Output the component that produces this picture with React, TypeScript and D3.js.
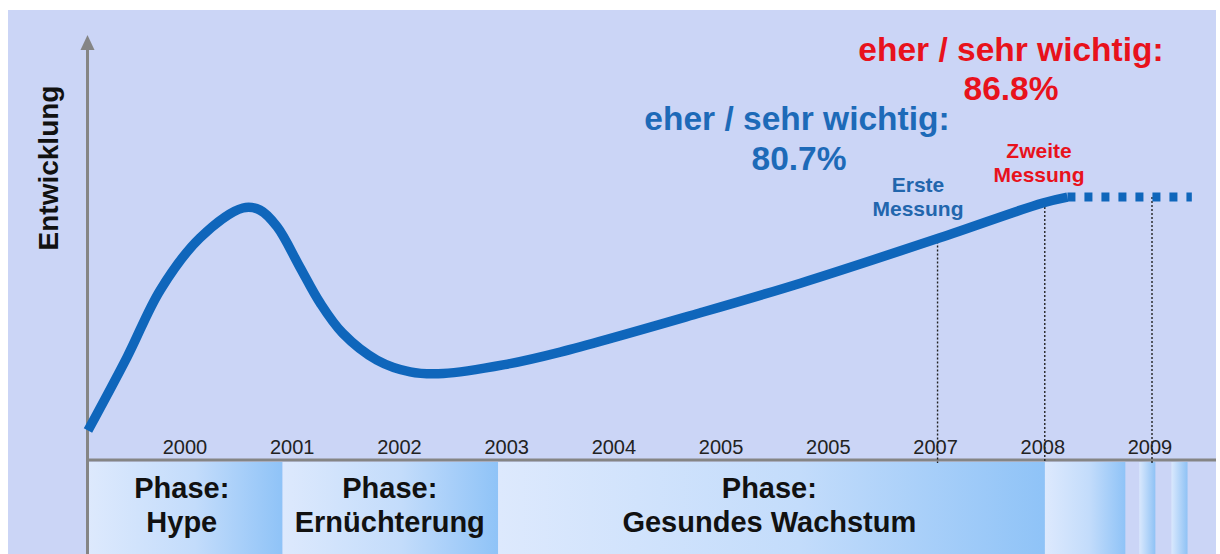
import React from "react";
import * as d3 from "d3";

// year labels along the time axis (the source repeats 2005)
const yearLabels = ["2000", "2001", "2002", "2003", "2004", "2005", "2005", "2007", "2008", "2009"];

// development curve, x in year-slot units, y in arbitrary "Entwicklung" units
const curveX = [-0.905, -0.54, -0.23, 0.14, 0.54, 0.7, 0.86, 1.07, 1.26, 1.47, 1.79, 2.1, 2.41, 2.98, 3.5, 4.8, 5.74, 7.04, 8.0, 8.23];
const curveY = [7, 24.5, 40.5, 52.9, 60, 59.5, 55.5, 46, 37.4, 30.2, 23.8, 21, 20.6, 22.7, 25.7, 35, 42.1, 52.9, 61.2, 62.6];

// forecast (dotted) continuation
const forecastX = [8.23, 9.39];
const forecastY = [62.6, 62.6];

// measurement drop lines
const markerX = [7, 8, 9];
const markerY = [53, 61.2, 62.6];

// phase bands below the axis
const phaseStart = [-0.9, 0.91, 2.92, 8.02];
const phaseEnd = [0.91, 2.92, 8.02, 8.77];
const phaseTitle = ["Phase:", "Phase:", "Phase:", ""];
const phaseName = ["Hype", "Ernüchterung", "Gesundes Wachstum", ""];
const phaseLabelX = [-0.03, 1.91, 5.45, 0];

// small stripes after the last band
const stripStart = [8.9, 9.2];
const stripEnd = [9.05, 9.35];

const W = 1220;
const H = 554;
const FONT = "'Liberation Sans', Arial, sans-serif";

export default function App() {
  const x = d3.scaleLinear().domain([0, 9]).range([185, 1150]);
  const y = d3.scaleLinear().domain([0, 100]).range([460, 40]);

  const line = d3
    .line<[number, number]>()
    .x((d) => x(d[0]))
    .y((d) => y(d[1]))
    .curve(d3.curveCatmullRom.alpha(0.5));

  const curvePts = curveX.map((v, i) => [v, curveY[i]] as [number, number]);
  const forecastPts = forecastX.map((v, i) => [v, forecastY[i]] as [number, number]);

  const axisY = y(0);
  const axisX = x(-0.9) - 1;
  const blue = "#0f66bb";
  const red = "#e8121c";

  return (
    <svg
      width={W}
      height={H}
      style={{ position: "absolute", left: 0, top: 0, fontFamily: FONT }}
    >
      <defs>
        <linearGradient id="band" x1="0" x2="1" y1="0" y2="0">
          <stop offset="0%" stopColor="#dde9fd" />
          <stop offset="55%" stopColor="#c3dcfb" />
          <stop offset="100%" stopColor="#8fc3f7" />
        </linearGradient>
        <linearGradient id="strip" x1="0" x2="1" y1="0" y2="0">
          <stop offset="0%" stopColor="#d9e8fd" />
          <stop offset="100%" stopColor="#8fc2f5" />
        </linearGradient>
      </defs>
      <rect x={0} y={0} width={W} height={H} fill="#fff" />
      <rect x={8} y={10} width={1208} height={H - 10} fill="#cbd5f6" />

      {/* phase bands */}
      {phaseStart.map((s, i) => (
        <rect
          key={"b" + i}
          x={x(s)}
          y={axisY + 2}
          width={x(phaseEnd[i]) - x(s)}
          height={H - axisY - 2}
          fill="url(#band)"
        />
      ))}
      {stripStart.map((s, i) => (
        <rect
          key={"s" + i}
          x={x(s)}
          y={axisY + 2}
          width={x(stripEnd[i]) - x(s)}
          height={H - axisY - 2}
          fill="url(#strip)"
        />
      ))}
      {phaseStart.map((s, i) =>
        phaseName[i] ? (
          <g key={"pl" + i} fontWeight="bold" fontSize={29} textAnchor="middle" fill="#111">
            <text x={x(phaseLabelX[i])} y={498}>{phaseTitle[i]}</text>
            <text x={x(phaseLabelX[i])} y={532}>{phaseName[i]}</text>
          </g>
        ) : null
      )}

      {/* axes */}
      <line x1={axisX} x2={W - 4} y1={axisY} y2={axisY} stroke="#858585" strokeWidth={3} />
      <line x1={axisX} x2={axisX} y1={H} y2={46} stroke="#858585" strokeWidth={3} />
      <path d={`M${axisX - 7},${50} L${axisX},${35} L${axisX + 7},${50} Z`} fill="#858585" />

      {/* year labels */}
      {yearLabels.map((t, i) => (
        <text key={"y" + i} x={x(i)} y={454} fontSize={20} textAnchor="middle" fill="#222">
          {t}
        </text>
      ))}

      {/* measurement drop lines */}
      {markerX.map((m, i) => (
        <line
          key={"m" + i}
          x1={x(m) + 2}
          x2={x(m) + 2}
          y1={y(markerY[i])}
          y2={axisY + 3}
          stroke="#222"
          strokeWidth={1.4}
          strokeDasharray="2 2"
        />
      ))}

      {/* curve */}
      <path d={line(curvePts) ?? ""} fill="none" stroke={blue} strokeWidth={9.5} strokeLinejoin="round" />
      <path
        d={line(forecastPts) ?? ""}
        fill="none"
        stroke={blue}
        strokeWidth={9}
        strokeDasharray="8 9"
      />

      <text
        transform="translate(58,168) rotate(-90)"
        fontSize={28}
        fontWeight="bold"
        textAnchor="middle"
        fill="#111"
      >
        Entwicklung
      </text>

      {/* annotations */}
      <g fontWeight="bold" textAnchor="middle">
        <text x={797} y={130} fontSize={33.5} fill="#1d6ab8">eher / sehr wichtig:</text>
        <text x={799} y={170} fontSize={33.5} fill="#1d6ab8">80.7%</text>
        <text x={1011} y={61} fontSize={33.5} fill={red}>eher / sehr wichtig:</text>
        <text x={1011} y={100} fontSize={33.5} fill={red}>86.8%</text>
        <text x={918} y={192} fontSize={21} fill="#2266ad">Erste</text>
        <text x={918} y={216} fontSize={21} fill="#2266ad">Messung</text>
        <text x={1039} y={158} fontSize={21} fill={red}>Zweite</text>
        <text x={1039} y={182} fontSize={21} fill={red}>Messung</text>
      </g>
    </svg>
  );
}
